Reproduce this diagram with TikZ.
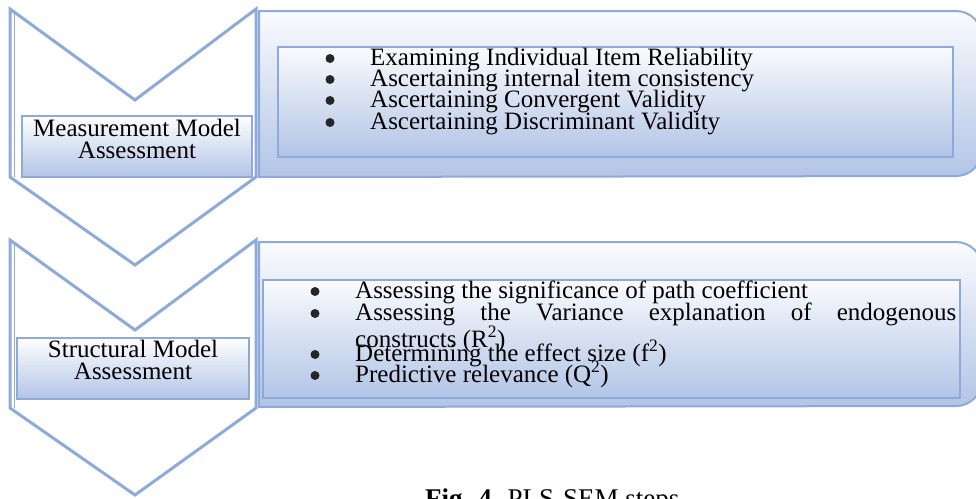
\documentclass[tikz,border=0pt]{standalone}
\usepackage{fontspec}
\setmainfont{Liberation Serif}
\usetikzlibrary{positioning}
\definecolor{chevblue}{RGB}{142,170,219}
\definecolor{shadeblue}{RGB}{178,196,230}
\definecolor{paleblue}{RGB}{250,251,253}
\lineskiplimit=-100pt
\hyphenpenalty=10000

\begin{document}
\begin{tikzpicture}[x=1pt,y=-1pt,
    chevron/.style={draw=chevblue,line width=3pt,fill=white,line join=miter},
    edgeline/.style={draw=chevblue,line width=1pt},
    panel/.style={draw=chevblue,line width=2pt,top color=paleblue,bottom color=shadeblue},
    listbox/.style={rectangle,draw=chevblue,line width=2pt,top color=paleblue,
        bottom color=shadeblue,inner sep=0pt},
    stagebox/.style={rectangle,draw=chevblue,line width=2pt,top color=white,
        bottom color=shadeblue,inner sep=0pt,minimum height=61pt},
    stagetext/.style={align=center,inner sep=0pt,font=\fontsize{25}{22}\selectfont},
    entry/.style={anchor=base west,inner sep=0pt,font=\fontsize{25}{21}\selectfont},
    dot/.style={circle,fill=black!85,inner sep=0pt,minimum size=9pt}
]
 \useasboundingbox (0,0) rectangle (976,498);

 % right hand panels
 \draw[panel] (259,177) -- (259,11) [rounded corners=26pt] -- (982,11) -- (982,176) [sharp corners] -- cycle;
 \draw[panel] (259,407) -- (259,242) [rounded corners=26pt] -- (982,242) -- (982,406) [sharp corners] -- cycle;

 % chevrons
 \draw[chevron] (10,9) -- (135,100) -- (256,9) -- (256,177) -- (135,265) -- (10,177) -- cycle;
 \draw[edgeline] (14,13) -- (14,177);
 \draw[chevron] (10,240) -- (135,330) -- (256,240) -- (256,408) -- (135,495) -- (10,408) -- cycle;
 \draw[edgeline] (14,244) -- (14,408);

 % stage labels
 \node[stagebox,minimum width=230pt] (measure) at (137,146.5) {};
 \node[stagetext] (measure text) at (137,139) {Measurement Model\\Assessment};
 \node[stagebox,minimum width=232pt] (struct) at (133,368) {};
 \node[stagetext] (struct text) at (133,360) {Structural Model\\Assessment};

 % measurement list
 \node[listbox,minimum width=675pt,minimum height=110pt] (mlist) at (615.5,102) {};
 \node[entry] (m1) at (370,65) {Examining Individual Item Reliability};
 \node[entry] (m2) at (370,86) {Ascertaining internal item consistency};
 \node[entry] (m3) at (370,107) {Ascertaining Convergent Validity};
 \node[entry] (m4) at (370,129) {Ascertaining Discriminant Validity};
 \node[dot] at ([xshift=-40pt,yshift=6.5pt]m1.base west) {};
 \node[dot] at ([xshift=-40pt,yshift=6.5pt]m2.base west) {};
 \node[dot] at ([xshift=-40pt,yshift=6.5pt]m3.base west) {};
 \node[dot] at ([xshift=-40pt,yshift=6.5pt]m4.base west) {};

 % structural list
 \node[listbox,minimum width=697pt,minimum height=118pt] (slist) at (611.5,339) {};
 \node[entry] (s1) at (355,298) {Assessing the significance of path coefficient};
 \node[entry,text width=601pt,align=justify] (s2) at (355,320)
    {Assessing the Variance explanation of endogenous constructs (R\textsuperscript{2})};
 \node[entry] (s3) at (355,361) {Determining the effect size (f\textsuperscript{2})};
 \node[entry] (s4) at (355,382) {Predictive relevance (Q\textsuperscript{2})};
 \node[dot] at ([xshift=-40pt,yshift=6.5pt]s1.base west) {};
 \node[dot] at ([xshift=-40pt,yshift=6.5pt]s2.base west) {};
 \node[dot] at ([xshift=-40pt,yshift=6.5pt]s3.base west) {};
 \node[dot] at ([xshift=-40pt,yshift=6.5pt]s4.base west) {};

 \node[anchor=base west,inner sep=0pt,font=\fontsize{27}{27}\selectfont] (caption) at (425,507)
    {\textbf{Fig. 4.} PLS-SEM steps};
\end{tikzpicture}
\end{document}
